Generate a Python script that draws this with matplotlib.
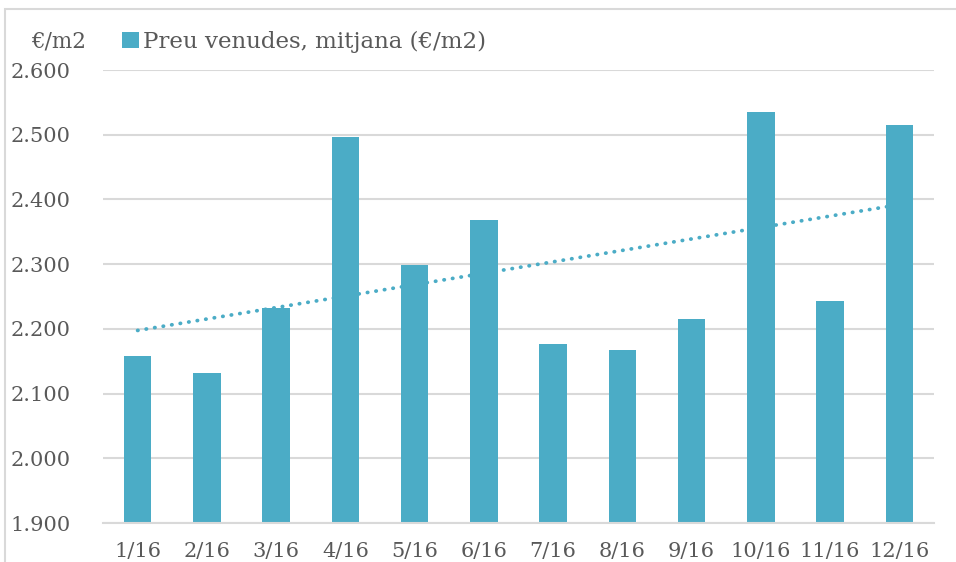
import matplotlib
matplotlib.use("Agg")
import matplotlib.pyplot as plt
from matplotlib.patches import Rectangle
import numpy as np

# dades llegides del gràfic
meses = ['1/16', '2/16', '3/16', '4/16', '5/16', '6/16',
         '7/16', '8/16', '9/16', '10/16', '11/16', '12/16']
preu = [2158, 2132, 2232, 2496, 2299, 2368, 2177, 2167, 2215, 2535, 2243, 2515]
y_ticks = [1900, 2000, 2100, 2200, 2300, 2400, 2500, 2600]

color_barra = '#4BACC6'
gris_text = '#595959'
gris_linia = '#D9D9D9'

plt.rcParams['font.family'] = ['DejaVu Serif', 'DejaVu Sans']

W, H = 956, 562
fig = plt.figure(figsize=(W / 100, H / 100), dpi=100)
ax = fig.add_axes([103 / W, 1 - 523 / H, (934 - 103) / W, (523 - 70) / H])

x = np.arange(len(meses))
ax.bar(x, preu, width=0.4, color=color_barra, zorder=2,
       label='Preu venudes, mitjana (€/m2)')

# línia de tendència lineal
p = np.polyfit(x, preu, 1)
ax.plot(x, np.polyval(p, x), color=color_barra, linewidth=2.7,
        linestyle=(0, (0.1, 2.2)), dash_capstyle='round', zorder=3)

ax.set_xlim(-0.5, len(meses) - 0.5)
ax.set_ylim(1900, 2600)
ax.set_yticks(y_ticks)
ax.set_yticklabels([f'{v/1000:.3f}' for v in y_ticks])
ax.set_xticks(x)
ax.set_xticklabels(meses)
ax.tick_params(axis='both', length=0, labelsize=15, colors=gris_text)
ax.tick_params(axis='y', pad=23)
ax.tick_params(axis='x', pad=14)
ax.grid(axis='y', color=gris_linia, linewidth=1.5, zorder=0)
for s in ['top', 'right', 'left']:
    ax.spines[s].set_visible(False)
ax.spines['bottom'].set_color(gris_linia)
ax.spines['bottom'].set_linewidth(1.5)

fig.text(59 / W, 1 - 42 / H, '€/m2', ha='center', va='center',
         fontsize=15.5, color=gris_text)
leg = fig.legend(loc='center left', bbox_to_anchor=(122 / W, 1 - 42 / H),
                 frameon=False, fontsize=16.5, handlelength=0.75, handleheight=0.75,
                 handletextpad=0.15, borderaxespad=0, borderpad=0)
for t in leg.get_texts():
    t.set_color(gris_text)

# vora del gràfic
fig.patches.append(Rectangle((5 / W, -0.1), 1.1, 1 - 9 / H + 0.1,
                             transform=fig.transFigure, fill=False,
                             edgecolor=gris_linia, linewidth=1.5))

fig.savefig('out.png', dpi=100)
